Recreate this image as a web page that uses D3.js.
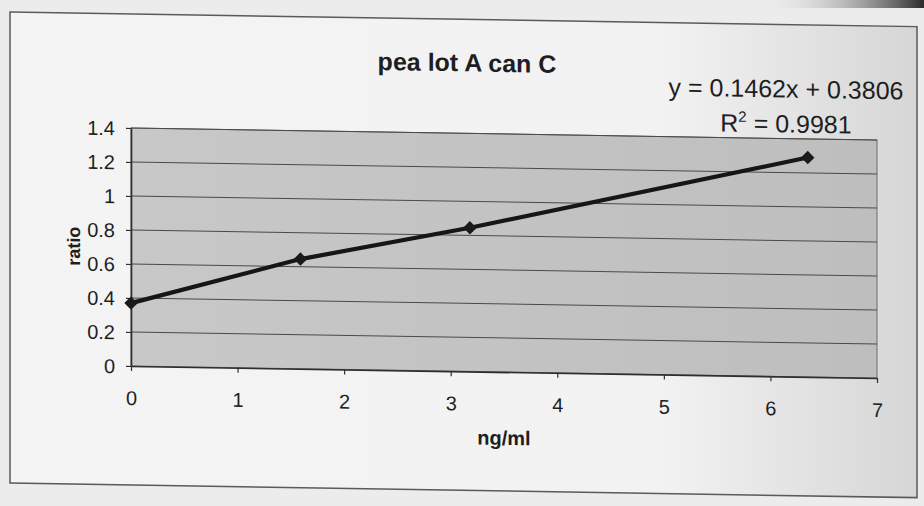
<!DOCTYPE html>
<html>
<head>
<meta charset="utf-8">
<script src="https://cdn.jsdelivr.net/npm/d3@7"></script>
<style>
  html, body { margin: 0; padding: 0; background: #ececec; }
  svg { display: block; }
  text { font-family: "Liberation Sans", Arial, sans-serif; fill: #1e1e1e; }
</style>
</head>
<body>
<div id="chart"></div>
<script>
//chart values
var xValues = [0, 1.59, 3.18, 6.35];
var yValues = [0.37, 0.645, 0.845, 1.29];
var xTicks = [0, 1, 2, 3, 4, 5, 6, 7];
var yTicks = [0, 0.2, 0.4, 0.6, 0.8, 1, 1.2, 1.4];
var titleText = "pea lot A can C";
var equationText = "y = 0.1462x + 0.3806";
var r2Value = "0.9981";
var xLabel = "ng/ml";
var yLabel = "ratio";

var W = 924, H = 506;
var margin = { top: 128, right: 47, bottom: 140, left: 131 };
var width = W - margin.left - margin.right;
var height = H - margin.top - margin.bottom;

var svg = d3.select("#chart")
  .append("svg")
  .attr("width", W)
  .attr("height", H);

var defs = svg.append("defs");

var paperGrad = defs.append("linearGradient").attr("id", "paper");
paperGrad.append("stop").attr("offset", "0%").attr("stop-color", "#f4f4f4");
paperGrad.append("stop").attr("offset", "72%").attr("stop-color", "#f2f2f2");
paperGrad.append("stop").attr("offset", "100%").attr("stop-color", "#d6d6d6");

var plotGrad = defs.append("linearGradient").attr("id", "plotbg");
plotGrad.append("stop").attr("offset", "0%").attr("stop-color", "#c8c8c8");
plotGrad.append("stop").attr("offset", "100%").attr("stop-color", "#bebebe");

//dark scanner edge top right
var edgeGrad = defs.append("linearGradient").attr("id", "edge")
  .attr("x1", "0%").attr("x2", "100%");
edgeGrad.append("stop").attr("offset", "0%").attr("stop-color", "#ececec").attr("stop-opacity", 0);
edgeGrad.append("stop").attr("offset", "100%").attr("stop-color", "#2a2a2a");
svg.append("rect")
  .attr("x", 760).attr("y", 0)
  .attr("width", 164).attr("height", 8)
  .attr("fill", "url(#edge)");

//the scan is slightly sheared, right side sits lower
var page = svg.append("g")
  .attr("transform", "translate(" + margin.left + ",0) skewY(0.92) translate(" + (-margin.left) + ",0)");

page.append("rect")
  .attr("x", 10).attr("y", 14)
  .attr("width", 907).attr("height", 471)
  .attr("fill", "url(#paper)")
  .attr("stroke", "#5a5a5a")
  .attr("stroke-width", 1.5);

var g = page.append("g")
  .attr("transform", "translate(" + margin.left + "," + margin.top + ")");

// set the ranges
var x = d3.scaleLinear().domain([0, 7]).range([0, width]);
var y = d3.scaleLinear().domain([0, 1.4]).range([height, 0]);

g.append("rect")
  .attr("width", width)
  .attr("height", height)
  .attr("fill", "url(#plotbg)")
  .attr("stroke", "#6a6a6a")
  .attr("stroke-width", 1);

//horizontal gridlines
g.append("g")
  .attr("class", "grid")
  .selectAll("line")
  .data(yTicks.slice(1))
  .enter().append("line")
  .attr("x1", 0).attr("x2", width)
  .attr("y1", function(d) { return y(d); })
  .attr("y2", function(d) { return y(d); })
  .attr("stroke", "#4a4a4a")
  .attr("stroke-width", 1);

// Add the X Axis
var xAxis = g.append("g")
  .attr("transform", "translate(0," + height + ")")
  .call(d3.axisBottom(x).tickValues(xTicks).tickSize(5).tickPadding(20).tickSizeOuter(0)
    .tickFormat(d3.format("d")));

// Add the Y Axis
var yAxis = g.append("g")
  .call(d3.axisLeft(y).tickValues(yTicks).tickSize(5).tickPadding(11).tickSizeOuter(0)
    .tickFormat(function(d) { return d === 0 || d === 1 ? String(d) : d3.format(".1f")(d); }));

[xAxis, yAxis].forEach(function(a) {
  a.select(".domain").attr("stroke", "#2e2e2e").attr("stroke-width", 1.6);
  a.selectAll(".tick line").attr("stroke", "#2e2e2e").attr("stroke-width", 1.2);
  a.selectAll(".tick text")
    .attr("font-size", 20)
    .attr("fill", "#222");
});
yAxis.selectAll(".tick text").attr("dy", "0.35em");

var points = xValues.map(function(d, i) { return { x: d, y: yValues[i] }; });

// define the line
var valueline = d3.line()
  .x(function(d) { return x(d.x); })
  .y(function(d) { return y(d.y); });

g.append("path")
  .datum(points)
  .attr("fill", "none")
  .attr("stroke", "#161616")
  .attr("stroke-width", 4.2)
  .attr("stroke-linejoin", "round")
  .attr("d", valueline);

g.selectAll(".marker")
  .data(points)
  .enter().append("path")
  .attr("class", "marker")
  .attr("d", d3.symbol().type(d3.symbolSquare).size(90))
  .attr("transform", function(d) {
    return "translate(" + x(d.x) + "," + y(d.y) + ") rotate(45)";
  })
  .attr("fill", "#1a1a1a");

//titles and labels
page.append("text")
  .attr("x", 467).attr("y", 66)
  .attr("text-anchor", "middle")
  .attr("font-size", 25)
  .attr("font-weight", "bold")
  .text(titleText);

page.append("text")
  .attr("x", 786).attr("y", 87)
  .attr("text-anchor", "middle")
  .attr("font-size", 25)
  .text(equationText);

var r2 = page.append("text")
  .attr("x", 786).attr("y", 122)
  .attr("text-anchor", "middle")
  .attr("font-size", 25);
r2.append("tspan").text("R");
r2.append("tspan").attr("font-size", 15).attr("dy", -10).text("2");
r2.append("tspan").attr("dy", 10).text(" = " + r2Value);

page.append("text")
  .attr("x", margin.left + x(3.5)).attr("y", 439)
  .attr("text-anchor", "middle")
  .attr("font-size", 20)
  .attr("font-weight", "bold")
  .text(xLabel);

page.append("text")
  .attr("transform", "translate(80," + (margin.top + y(0.7)) + ") rotate(-90)")
  .attr("text-anchor", "middle")
  .attr("font-size", 18)
  .attr("font-weight", "bold")
  .text(yLabel);
</script>
</body>
</html>
